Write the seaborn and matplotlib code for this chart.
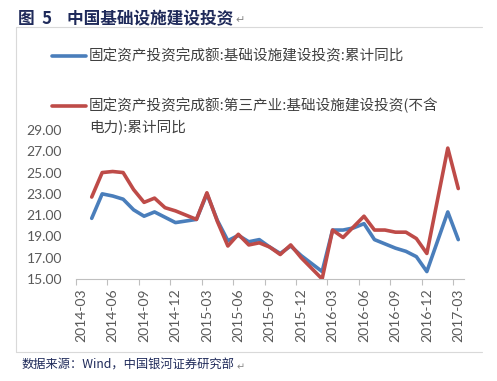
import matplotlib
matplotlib.use("Agg")
import matplotlib.pyplot as plt
from matplotlib.lines import Line2D
import seaborn as sns
import pandas as pd
import numpy as np

months = ["2014-04", "2014-05", "2014-06", "2014-07", "2014-08", "2014-09", "2014-10",
          "2014-11", "2014-12", "2015-02", "2015-03", "2015-04", "2015-05", "2015-06",
          "2015-07", "2015-08", "2015-09", "2015-10", "2015-11", "2015-12", "2016-02",
          "2016-03", "2016-04", "2016-05", "2016-06", "2016-07", "2016-08", "2016-09",
          "2016-10", "2016-11", "2016-12", "2017-02", "2017-03"]

infra_total = [20.7, 23.0, 22.8, 22.5, 21.5, 20.9, 21.3, 20.8, 20.3, 20.6, 23.0,
               20.5, 18.6, 19.1, 18.5, 18.7, 18.0, 17.4, 18.1, 17.2, 15.7,
               19.6, 19.6, 19.8, 20.2, 18.7, 18.3, 17.9, 17.6, 17.1, 15.7, 21.3, 18.7]

infra_tertiary = [22.7, 25.0, 25.1, 25.0, 23.4, 22.2, 22.6, 21.7, 21.4, 20.6, 23.1,
                  20.4, 18.1, 19.2, 18.2, 18.4, 18.0, 17.3, 18.2, 17.0, 15.0,
                  19.6, 18.9, 19.9, 20.9, 19.6, 19.6, 19.4, 19.4, 18.8, 17.4, 27.3, 23.5]

tick_labels = ["2014-03", "2014-06", "2014-09", "2014-12", "2015-03", "2015-06", "2015-09",
               "2015-12", "2016-03", "2016-06", "2016-09", "2016-12", "2017-03"]

name_a = "固定资产投资完成额:基础设施建设投资:累计同比"
name_b = "固定资产投资完成额:第三产业:基础设施建设投资(不含\n电力):累计同比"

start = pd.Period("2014-03", freq="M")
def midx(s):
    return (pd.Period(s, freq="M") - start).n

df = pd.DataFrame({
    "x": [midx(m) for m in months] * 2,
    "v": infra_total + infra_tertiary,
    "s": ["a"] * len(months) + ["b"] * len(months),
})

sns.set_theme(style="white")
plt.rcParams["font.family"] = ["Noto Sans CJK SC", "DejaVu Sans"]

W, H = 497, 381
fig = plt.figure(figsize=(W / 100, H / 100), dpi=100)
ax = fig.add_axes([76 / W, 1 - 279 / H, (463.5 - 76) / W, (279 - 130) / H])

blue = "#4A7EBB"
red = "#BE4B48"
sns.lineplot(data=df, x="x", y="v", hue="s", palette={"a": blue, "b": red},
             linewidth=2.6, ax=ax, legend=False, sort=False)

ax.set_xlim(-0.5, 36.5)
ax.set_ylim(15, 29)
ax.set_yticks(np.arange(15, 29.1, 2))
ax.set_yticklabels([f"{v:.2f}" for v in np.arange(15, 29.1, 2)],
                   fontfamily="Lato", fontsize=10, color="#595959")
ax.set_xticks([midx(t) for t in tick_labels])
ax.set_xticklabels(tick_labels, rotation=90, fontfamily="Lato", fontsize=10, color="#595959")
ax.set_xticks(np.arange(-0.5, 36.6, 3), minor=True)
ax.tick_params(axis="x", which="major", length=0, pad=7)
ax.tick_params(axis="x", which="minor", length=4, color="#BFBFBF", width=0.8, bottom=True)
ax.tick_params(axis="y", length=0, pad=10)
ax.set_xlabel("")
ax.set_ylabel("")
ax.grid(False)
for s in ["left", "right", "top"]:
    ax.spines[s].set_visible(False)
ax.spines["bottom"].set_color("#BFBFBF")
ax.spines["bottom"].set_linewidth(0.8)

def fx(px):
    return px / W
def fy(py):
    return 1 - py / H

frame_c = "#D9D9D9"
fig.add_artist(Line2D([fx(16), fx(482)], [fy(27), fy(27)], color=frame_c, lw=0.8))
fig.add_artist(Line2D([fx(16), fx(482)], [fy(352), fy(352)], color=frame_c, lw=0.8))
fig.add_artist(Line2D([fx(16), fx(16)], [fy(27), fy(352)], color=frame_c, lw=0.8))

# legend (manual)
txt_c = "#404040"
fig.add_artist(Line2D([fx(52), fx(86)], [fy(56), fy(56)], color=blue, lw=2.6))
fig.text(fx(89), fy(56), name_a, fontsize=10.5, color=txt_c, va="center", ha="left")
fig.add_artist(Line2D([fx(52), fx(86)], [fy(106), fy(106)], color=red, lw=2.6))
fig.text(fx(89), fy(98), name_b, fontsize=10.5, color=txt_c, va="top", ha="left",
         linespacing=1.45)

# title and footer
renderer = fig.canvas.get_renderer()
title = fig.text(fx(18), fy(19), "图  5    中国基础设施建设投资", fontsize=12, fontweight="bold",
                 color="#1F2A5A", va="center", ha="left")
tb = title.get_window_extent(renderer)
fig.text((tb.x1 + 2) / W, fy(20), "\u21b5", fontsize=8, color="#888888", va="center",
         ha="left", family=["DejaVu Sans"])
foot = fig.text(fx(22), fy(365), "数据来源：Wind，中国银河证券研究部", fontsize=8.8,
                style="italic", color="#1F2A5A", va="center", ha="left")
fb = foot.get_window_extent(renderer)
fig.text((fb.x1 + 2) / W, fy(367), "\u21b5", fontsize=7, color="#888888", va="center",
         ha="left", family=["DejaVu Sans"])

fig.savefig("out.png", dpi=100)
